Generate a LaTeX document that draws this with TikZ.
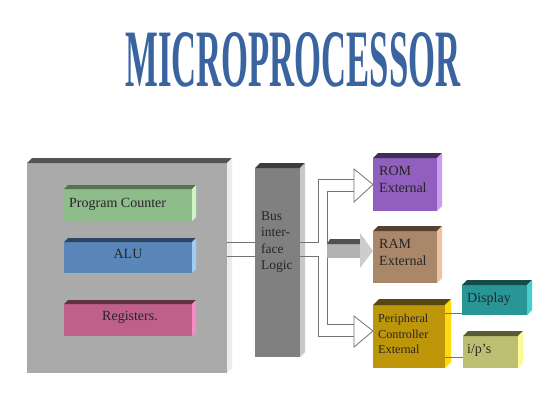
\documentclass[tikz,border=0pt]{standalone}
\usepackage{fontspec}
\setmainfont{Liberation Serif}
\definecolor{titleblue}{RGB}{58,100,160}
\definecolor{pipecol}{RGB}{115,115,115}
\definecolor{cpuF}{RGB}{170,170,170}\definecolor{cpuT}{RGB}{85,85,85}\definecolor{cpuS}{RGB}{236,236,236}
\definecolor{pcF}{RGB}{143,188,139}\definecolor{pcT}{RGB}{85,115,80}\definecolor{pcS}{RGB}{205,245,195}
\definecolor{aluF}{RGB}{90,135,185}\definecolor{aluT}{RGB}{45,70,100}\definecolor{aluS}{RGB}{160,205,245}
\definecolor{regF}{RGB}{190,95,140}\definecolor{regT}{RGB}{95,50,70}\definecolor{regS}{RGB}{245,140,195}
\definecolor{busF}{RGB}{128,128,128}\definecolor{busT}{RGB}{60,60,60}\definecolor{busS}{RGB}{200,200,200}
\definecolor{romF}{RGB}{145,95,190}\definecolor{romT}{RGB}{65,45,85}\definecolor{romS}{RGB}{205,155,240}
\definecolor{ramF}{RGB}{170,135,105}\definecolor{ramT}{RGB}{85,65,50}\definecolor{ramS}{RGB}{240,195,160}
\definecolor{perF}{RGB}{190,150,10}\definecolor{perT}{RGB}{85,70,20}\definecolor{perS}{RGB}{255,215,20}
\definecolor{dispF}{RGB}{40,150,150}\definecolor{dispT}{RGB}{20,75,75}\definecolor{dispS}{RGB}{70,205,205}
\definecolor{ipF}{RGB}{190,190,115}\definecolor{ipT}{RGB}{90,90,55}\definecolor{ipS}{RGB}{250,250,150}
\definecolor{arrBody}{RGB}{178,178,178}\definecolor{arrTop}{RGB}{80,80,80}\definecolor{arrHead}{RGB}{205,205,205}
\newcommand\mkbox[9]{%
  \node[inner sep=0pt, outer sep=0pt, anchor=north west,
        minimum width=#4pt-#2pt, minimum height=#5pt-#3pt, fill=#6] (#1) at (#2,#3) {};
  \fill[#7] (#1.north west) -- ([shift={(#9,-#9)}]#1.north west)
     -- ([shift={(#9,-#9)}]#1.north east) -- (#1.north east) -- cycle;
  \fill[#8] (#1.north east) -- ([shift={(#9,-#9)}]#1.north east)
     -- ([shift={(#9,-#9)}]#1.south east) -- (#1.south east) -- cycle;
}
\tikzset{
  pipe/.style={draw=pipecol, line width=0.8pt},
  lbl/.style={inner sep=0pt, font=\fontsize{14}{17}\selectfont, text=black!85},
  hollow/.style={draw=pipecol, line width=0.8pt, fill=white}
}
\begin{document}
\begin{tikzpicture}[x=1pt,y=-1pt]
\useasboundingbox[fill=white] (0,0) rectangle (560,420);
% title
\node[inner sep=0pt, text=titleblue] (title) at (293,60)
  {\resizebox{335pt}{54pt}{\bfseries MICROPROCESSOR}};
% boxes
\mkbox{cpu}{27}{163}{227}{373}{cpuF}{cpuT}{cpuS}{5}
\mkbox{pc}{64}{189}{192}{221}{pcF}{pcT}{pcS}{4}
\mkbox{alu}{64}{242}{192}{273}{aluF}{aluT}{aluS}{4}
\mkbox{reg}{64}{304}{192}{336}{regF}{regT}{regS}{4}
\mkbox{bus}{255}{168}{300}{357}{busF}{busT}{busS}{5}
\mkbox{rom}{373}{158}{437}{211}{romF}{romT}{romS}{5}
\mkbox{ram}{373}{231}{437}{283}{ramF}{ramT}{ramS}{5}
\mkbox{peri}{373}{305}{445}{368}{perF}{perT}{perS}{6}
\mkbox{disp}{462}{285}{527}{315}{dispF}{dispT}{dispS}{5}
\mkbox{ipo}{463}{336}{518}{368}{ipF}{ipT}{ipS}{5}
% texts
\node[lbl, anchor=base west] (pctext) at (69,207) {Program Counter};
\node[lbl, anchor=base] (alutext) at (128,258) {ALU};
\node[lbl, anchor=base] (regtext) at (130,320) {Registers.};
\node[lbl, anchor=north west, align=left, font=\fontsize{13.5}{16.5}\selectfont] (bustext) at (261,211) {Bus\\inter-\\face\\Logic};
\node[lbl, anchor=north west, align=left] (romtext) at (379,166) {ROM\\External};
\node[lbl, anchor=north west, align=left] (ramtext) at (379,239) {RAM\\External};
\node[lbl, anchor=north west, align=left, font=\fontsize{12.2}{15.5}\selectfont] (peritext) at (378,314) {Peripheral\\Controller\\External};
\node[lbl, anchor=base west] (disptext) at (467,302) {Display};
\node[lbl, anchor=base west] (iptext) at (467,353) {i/p’s};
% pipes cpu -- bus
\draw[pipe] (cpu.east |- 0,242) -- (bus.west |- 0,242);
\draw[pipe] (cpu.east |- 0,256) -- (bus.west |- 0,256);
% pipes bus -- memories
\coordinate (o1) at (318,179);
\coordinate (o2) at (318,336);
\coordinate (i1) at (327,191);
\coordinate (i2) at (327,324);
\draw[pipe] (bus.east |- 0,242) -| (o1) -- (354,179);
\draw[pipe] (bus.east |- 0,256) -| (o2) -- (354,336);
\draw[pipe] (354,191) -- (i1) -- (i2) -- (354,324);
% hollow arrow heads
\draw[hollow] (354,169) -- (rom.west) -- (354,202) -- cycle;
\draw[hollow] (354,316) -- (peri.west |- 0,331) -- (354,347) -- cycle;
% grey block arrow to RAM
\fill[arrBody] (327,244) rectangle (362,258);
\fill[arrTop] (330,239) -- (365,239) -- (362,244) -- (327,244) -- cycle;
\fill[arrHead] (360,233) -- (ram.west |- 0,251) -- (360,268) -- cycle;
% peripheral connections
\draw[pipe] (peri.east |- 0,313) -- (disp.west |- 0,313);
\draw[pipe] (peri.east |- 0,357) -- (ipo.west |- 0,357);
\end{tikzpicture}
\end{document}
